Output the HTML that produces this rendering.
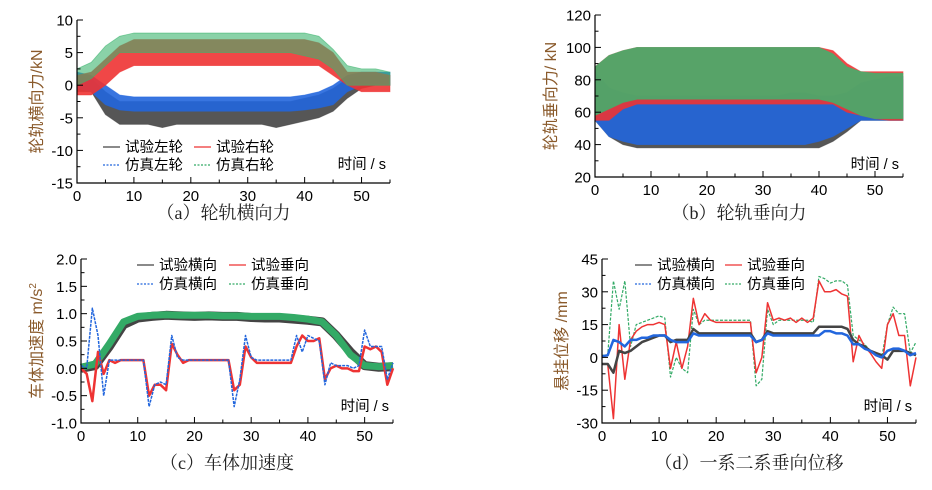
<!DOCTYPE html>
<html><head><meta charset="utf-8">
<style>
html,body{margin:0;padding:0;background:#fff;}
svg text{font-family:"Liberation Sans","Noto Sans CJK SC",sans-serif;}
.cap{font-family:"Liberation Serif","Noto Serif CJK SC",serif;font-size:18px;fill:#222;}
</style></head>
<body>
<svg id="fig" width="932" height="485" viewBox="0 0 932 485" xmlns="http://www.w3.org/2000/svg"></svg>
<script>
// ---- data (a) lateral wheel-rail force, sampled every 2.5 s ----
const tA = [0,2.5,5,7.5,10,12.5,15,17.5,20,22.5,25,27.5,30,32.5,35,37.5,40,42.5,45,47.5,50,52.5,55];
const aBlackLo = [-1,-1,-4.5,-6,-6,-6,-6.5,-6,-6,-6,-6,-6,-6,-6,-6.5,-6,-5.5,-5,-4,-2,-0.5,0,0];
const aBlackHi = [1.5,1,-1,-2.5,-2.5,-2.5,-2.5,-2.5,-2.5,-2.5,-2.5,-2.5,-2.5,-2.5,-2.5,-2.5,-2,-1.5,-0.5,1,1.5,1.5,1.5];
const aBlueLo  = [-0.5,-1,-3,-3.8,-4,-4,-4,-4,-4,-4,-4,-4,-4,-4,-4,-4,-3.8,-3.5,-3,-1,0,0,0];
const aBlueHi  = [2,1.5,0,-1.5,-1.8,-1.8,-1.8,-1.8,-1.8,-1.8,-1.8,-1.8,-1.8,-1.8,-1.8,-1.8,-1.5,-1,0,1.5,2,2,2];
const aRedLo   = [-1.5,-1.5,0,2,3,3,3,3,3,3,3,3,3,3,3,3,3,3,1.5,0,-1,-1,-1];
const aRedHi   = [1.5,2,4,6,7,7,7,7,7,7,7,7,7,7,7,7,7,6.5,5,2,2,2,1.5];
const aGreenLo = [0,1,3,5,5,5,5,5,5,5,5,5,5,5,5,5,4.5,4,2.5,0,0,0,0];
const aGreenHi = [2.5,3.5,6,7.5,8,8,8,8,8,8,8,8,8,8,8,8,8,7.5,5.5,3,2.5,2.5,2];
// ---- data (b) vertical wheel-rail force ----
const tB = [0,2.5,5,7.5,10,12.5,15,17.5,20,22.5,25,27.5,30,32.5,35,37.5,40,42.5,45,47.5,50,52.5,55];
const bBlackLo = [55,45,40,38,38,38,38,38,38,38,38,38,38,38,38,38,38,42,48,55,55,55,55];
const bBlackHi = [85,75,70,70,70,70,70,70,70,70,70,70,70,70,70,70,70,70,72,78,80,80,80];
const bBlueLo  = [55,45,42,40,40,40,40,40,40,40,40,40,40,40,40,40,42,45,50,55,55,55,55];
const bBlueHi  = [85,75,72,70,70,70,70,70,70,70,70,70,70,70,72,72,70,70,72,78,80,82,82];
const bRedLo   = [55,55,62,65,65,65,65,65,65,65,65,65,65,65,65,65,65,65,60,58,56,55,55];
const bRedHi   = [88,95,98,100,100,100,100,100,100,100,100,100,100,100,100,100,100,98,90,85,85,85,85];
const bGreenLo = [58,62,66,68,68,68,68,68,68,68,68,68,68,68,68,68,68,66,62,58,56,56,56];
const bGreenHi = [88,95,98,100,100,100,100,100,100,100,100,100,100,100,100,100,100,96,88,85,84,84,84];
// ---- data (c) car body acceleration ----
const tC1 = [0,2.5,5,7.5,10,12.5,15,17.5,20,22.5,25,27.5,30,32.5,35,37.5,40,42.5,45,47.5,50,52.5,55];
const cLat  = [0,0.05,0.4,0.8,0.92,0.95,0.97,0.96,0.95,0.96,0.95,0.95,0.93,0.92,0.92,0.9,0.88,0.85,0.6,0.3,0.05,0.02,0.03];
const cLatSim = [0.02,0.08,0.45,0.85,0.95,0.97,0.98,0.97,0.97,0.97,0.96,0.96,0.95,0.95,0.95,0.93,0.9,0.85,0.6,0.25,0.05,0.03,0.05];
const tC = [0,1,2,3,4,5,6,7,8,9,10,11,12,13,14,15,16,17,18,19,20,21,22,23,24,25,26,27,28,29,30,31,32,33,34,35,36,37,38,39,40,41,42,43,44,45,46,47,48,49,50,51,52,53,54,55];
const cVert = [0,-0.1,-0.6,0.3,-0.1,0.15,0.1,0.15,0.15,0.15,0.15,0.15,-0.5,-0.3,-0.3,-0.4,0.45,0.25,0.1,0.15,0.15,0.15,0.15,0.15,0.15,0.15,0.15,-0.4,-0.3,0.4,0.2,0.1,0.1,0.1,0.1,0.1,0.1,0.1,0.4,0.6,0.5,0.5,0.55,-0.2,0,0.05,0,0,-0.05,-0.05,0.4,0.35,0.4,0.3,-0.3,0];
const cVertSim = [0.05,0,1.1,0.6,-0.5,0.15,0.15,0.15,0.15,0.15,0.15,0.15,-0.7,-0.3,-0.25,-0.3,0.6,0.2,0.15,0.15,0.15,0.15,0.15,0.15,0.15,0.15,0.15,-0.7,-0.2,0.6,0.2,0.15,0.15,0.15,0.15,0.15,0.15,0.15,0.6,0.3,0.6,0.55,0.5,-0.3,0.1,0.05,0.05,0.05,0,0.05,0.7,0.4,0.4,0.4,-0.2,0.1];
// ---- data (d) suspension displacement ----
const tD = tC;
const dBlack = [-3,-3,-7,3,2,3,5,7,8,9,10,10,7,8,8,8,13,11,11,11,11,11,11,11,11,11,11,7,8,12,11,11,11,11,11,11,11,11,14,14,14,14,14,13,8,6,5,3,2,1,-1,3,3,3,2,1];
const dBlue  = [0.5,1,8,7,5,8,8,9,9,10,10,10,8,7,7,7,11,10,10,10,10,10,10,10,10,10,10,7,8,11,10,10,10,10,10,10,10,10,10,12,12,11,11,10,6,6,4,3,1,0,3,4,4,3,1,2];
const dRed   = [-3,-3,-28,15,-10,8,12,14,15,15,16,15,-5,7,-5,5,27,15,20,17,16,16,16,16,16,16,16,-7,0,25,17,18,17,18,16,18,16,18,35,30,30,31,29,28,-2,10,5,2,-2,-5,15,20,10,10,-13,0];
const dGreen = [1,1,35,22,35,5,15,16,17,18,19,18,-9,0,-5,-7,22,15,17,17,17,17,17,17,17,17,17,-13,-10,22,15,17,17,17,17,17,17,16,37,36,34,35,35,33,10,8,6,3,2,0,15,23,20,20,2,7];

const svg = document.getElementById('fig');
const NS = 'http://www.w3.org/2000/svg';
function el(tag, attrs, parent){ const e=document.createElementNS(NS,tag); for(const k in attrs) e.setAttribute(k,attrs[k]); (parent||svg).appendChild(e); return e; }
const C = {black:'#444444', red:'#ee3333', blue:'#2266dd', green:'#33aa66'};

function panel(cfg){
  const g = el('g',{});
  
  
  const sx = v => cfg.x0 + (v/55)*(cfg.x1-cfg.x0);
  const sy = v => cfg.yb + (v-cfg.ymin)/(cfg.ymax-cfg.ymin)*(cfg.yt-cfg.yb);
  cfg.draw(g, sx, sy);
  const ax = el('path',{d:`M${cfg.x0},${cfg.yt}V${cfg.yb}H${cfg.x1}`,stroke:'#000','stroke-width':1.2,fill:'none'},g);
   
  for(let v=0; v<=55; v+=5){
    const x=sx(v), maj = v%10===0;
    el('line',{x1:x,x2:x,y1:cfg.yb,y2:cfg.yb-(maj?6:3.5),stroke:'#000','stroke-width':1},g);
    if(maj){ const t=el('text',{x:x,y:cfg.yb+18,'text-anchor':'middle','font-size':15,fill:'#000'},g); t.textContent=v;
        }
  }
  cfg.yticks.forEach((v,i)=>{
    const y=sy(v);
    el('line',{x1:cfg.x0,x2:cfg.x0+6,y1:y,y2:y,stroke:'#000','stroke-width':1},g);
    if(i<cfg.yticks.length-1){ const ym=sy((v+cfg.yticks[i+1])/2); el('line',{x1:cfg.x0,x2:cfg.x0+3.5,y1:ym,y2:ym,stroke:'#000','stroke-width':1},g); }
    const t=el('text',{x:cfg.x0-4,y:y+5.5,'text-anchor':'end','font-size':15,fill:'#000'},g); t.textContent=cfg.ylab?cfg.ylab[i]:v;
     
  });
  const yt=el('text',{transform:`translate(${cfg.ytx},${(cfg.yt+cfg.yb)/2}) rotate(-90)`,'text-anchor':'middle','font-size':16,fill:'#8a5a2b'},g);
  yt.innerHTML=cfg.ytitle;
   
  const xt=el('text',{x:cfg.x1-4,y:cfg.xty,'text-anchor':'end','font-size':14.5,fill:'#000'},g); xt.textContent='时间 / s';
   
  const cp=el('text',{x:(cfg.x0+cfg.x1)/2-10,y:cfg.capy,'text-anchor':'middle',class:'cap'},g); cp.textContent=cfg.caption;
   
  cfg.legend.forEach((L)=>{
    const lg=el('g',{},g);
     
    el('line',{x1:L[0],x2:L[0]+17,y1:L[1]-5,y2:L[1]-5,stroke:L[3],'stroke-width':1.2,'stroke-dasharray':L[4]?'2,1.5':'none'},lg);
    const t=el('text',{x:L[0]+22,y:L[1],'font-size':14.5,fill:'#000'},lg); t.textContent=L[2];
  });
}
function band(g, sx, sy, ts, lo, hi, col, name, op){
  let d='M'+ts.map((t,i)=>sx(t)+','+sy(hi[i])).join('L');
  for(let i=ts.length-1;i>=0;i--) d+='L'+sx(ts[i])+','+sy(lo[i]);
  const p=el('path',{d:d+'Z',fill:col,'fill-opacity':op||0.9,stroke:col,'stroke-width':0.8,'stroke-opacity':0.6},g);
   
}
function line(g, sx, sy, ts, vs, col, name, w, dash){
  const p=el('polyline',{points:ts.map((t,i)=>sx(t)+','+sy(vs[i])).join(' '),fill:'none',stroke:col,'stroke-width':w||1.5,'stroke-dasharray':dash||'none','stroke-linejoin':'round'},g);
   
}

panel({name:'panel-a-lateral-force',x0:77,x1:390,yt:20,yb:183,ymin:-15,ymax:10,yticks:[-15,-10,-5,0,5,10],ytx:42,
  ytitle:'轮轨横向力/kN',xty:169,capy:219,caption:'（a）轮轨横向力',
  legend:[[103,152,'试验左轮',C.black,0],[194,152,'试验右轮',C.red,0],[103,170,'仿真左轮',C.blue,1],[194,170,'仿真右轮',C.green,1]],
  draw:(g,sx,sy)=>{
    band(g,sx,sy,tA,aBlackLo,aBlackHi,C.black,'series-test-left');
    band(g,sx,sy,tA,aBlueLo,aBlueHi,C.blue,'series-sim-left');
    band(g,sx,sy,tA,aRedLo,aRedHi,C.red,'series-test-right');
    band(g,sx,sy,tA,aGreenLo,aGreenHi,'#3cb46e','series-sim-right',0.6);
  }});
panel({name:'panel-b-vertical-force',x0:595,x1:903,yt:15,yb:177,ymin:20,ymax:120,yticks:[20,40,60,80,100,120],ytx:556,
  ytitle:'轮轨垂向力/ kN',xty:169,capy:219,caption:'（b）轮轨垂向力',legend:[],
  draw:(g,sx,sy)=>{
    band(g,sx,sy,tB,bBlackLo,bBlackHi,C.black,'series-test-left');
    band(g,sx,sy,tB,bBlueLo,bBlueHi,C.blue,'series-sim-left');
    band(g,sx,sy,tB,bRedLo,bRedHi,C.red,'series-test-right');
    band(g,sx,sy,tB,bGreenLo,bGreenHi,'#3cb46e','series-sim-right',0.85);
  }});
panel({name:'panel-c-body-acceleration',x0:81,x1:393,yt:259,yb:423,ymin:-1,ymax:2,yticks:[-1,-0.5,0,0.5,1,1.5,2],
  ylab:['-1.0','-0.5','0.0','0.5','1.0','1.5','2.0'],ytx:42,
  ytitle:'车体加速度 m/s<tspan font-size="10" dy="-6">2</tspan>',xty:411,capy:469,caption:'（c）车体加速度',
  legend:[[137,270,'试验横向',C.black,0],[229,270,'试验垂向',C.red,0],[137,289,'仿真横向',C.blue,1],[229,289,'仿真垂向',C.green,1]],
  draw:(g,sx,sy)=>{
    line(g,sx,sy,tC1,cLat,C.black,'series-test-lateral',9);
    line(g,sx,sy,tC1,cLatSim,C.green,'series-sim-vertical',7);
    line(g,sx,sy,tC,cVert,C.red,'series-test-vertical',2.5);
    line(g,sx,sy,tC,cVertSim,C.blue,'series-sim-lateral',1.5,'3,1');
  }});
panel({name:'panel-d-suspension-displacement',x0:602,x1:916,yt:259,yb:423,ymin:-30,ymax:45,yticks:[-30,-15,0,15,30,45],ytx:567,
  ytitle:'悬挂位移 /mm',xty:411,capy:469,caption:'（d）一系二系垂向位移',
  legend:[[635,270,'试验横向',C.black,0],[725,270,'试验垂向',C.red,0],[635,289,'仿真横向',C.blue,1],[725,289,'仿真垂向',C.green,1]],
  draw:(g,sx,sy)=>{
    line(g,sx,sy,tD,dGreen,C.green,'series-sim-vertical',1.2,'3,1.5');
    line(g,sx,sy,tD,dRed,C.red,'series-test-vertical',1.5);
    line(g,sx,sy,tD,dBlack,C.black,'series-test-lateral',2.5);
    line(g,sx,sy,tD,dBlue,C.blue,'series-sim-lateral',2.5);
  }});
</script>
</body></html>
